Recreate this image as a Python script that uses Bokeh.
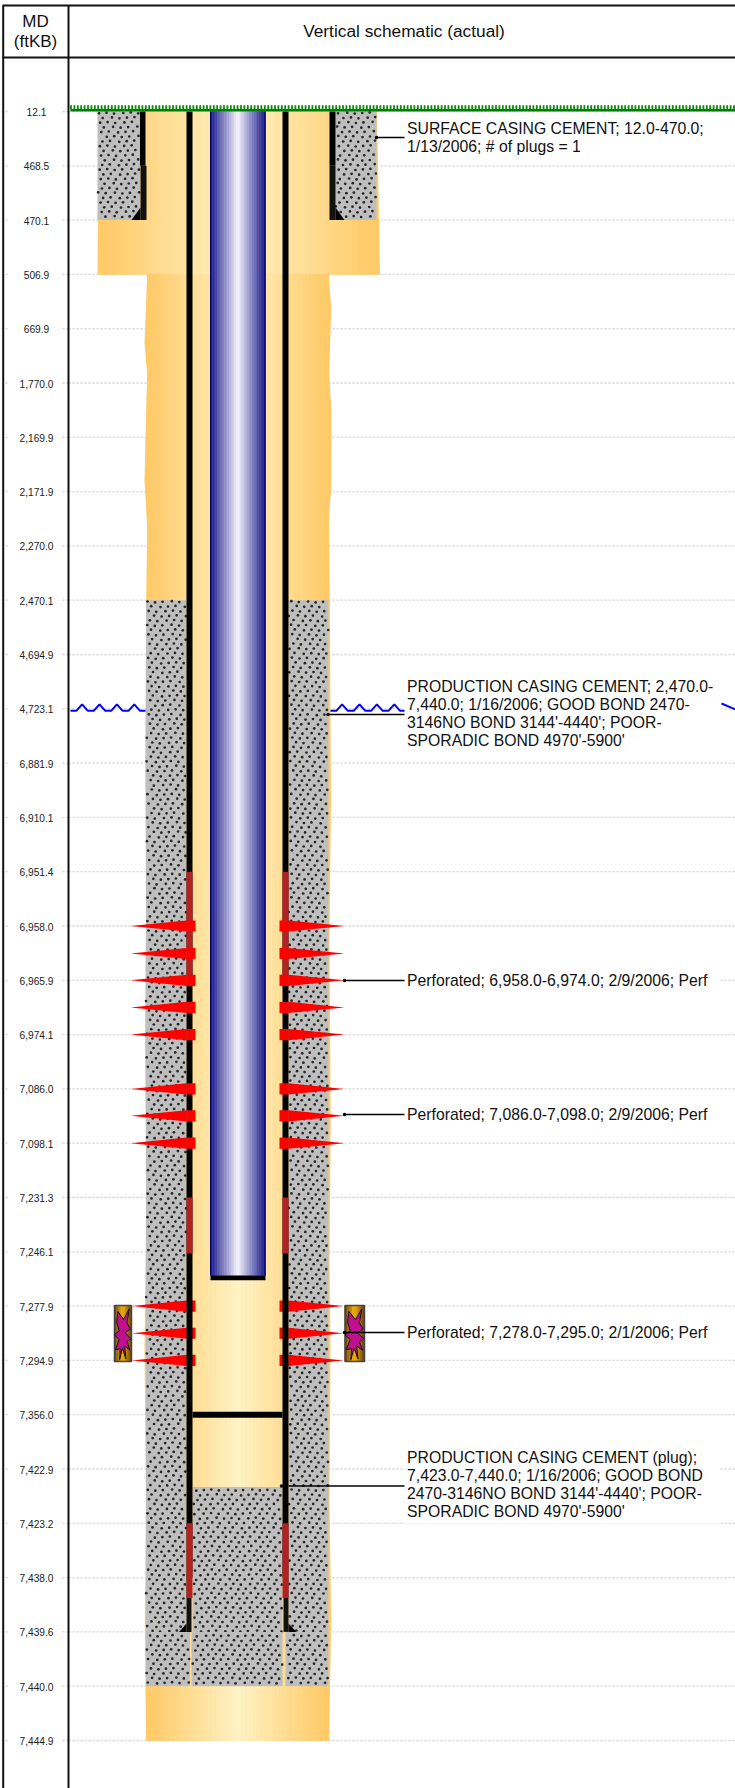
import numpy as np
from bokeh.plotting import figure
from bokeh.embed import file_html
from bokeh.resources import INLINE
from bokeh.core.properties import value

# ---- data ----
MD_LABELS = ["12.1","468.5","470.1","506.9","669.9","1,770.0","2,169.9","2,171.9","2,270.0","2,470.1",
             "4,694.9","4,723.1","6,881.9","6,910.1","6,951.4","6,958.0","6,965.9","6,974.1","7,086.0",
             "7,098.1","7,231.3","7,246.1","7,277.9","7,294.9","7,356.0","7,422.9","7,423.2","7,438.0",
             "7,439.6","7,440.0","7,444.9"]
MD_VALUES = [float(s.replace(",", "")) for s in MD_LABELS]
PERF_DEPTHS_A = [6958.0, 6962.0, 6965.9, 6970.0, 6974.1]
PERF_DEPTHS_B = [7086.0, 7092.0, 7098.1]
PERF_DEPTHS_C = [7277.9, 7286.4, 7294.9]
SURFACE_CEMENT = (12.1, 470.1)
SURFACE_HOLE_BOTTOM = 506.9
PROD_CEMENT = (2470.1, 7440.0)
PLUG = (7423.0, 7440.0)
HOLE_BOTTOM = 7444.9
TUBING_BOTTOM = 7260.0
BRIDGE = 7356.0
WATER = 4723.1
CASING_SHOE = 7439.6
SURFACE_JOINT = 468.5
RED_ZONES = [(6951.4, 6966.8), (7231.3, 7247.1), (7423.2, 7438.6)]
LOWER_JOINT = 7438.0
NOTES = [
    (["SURFACE CASING CEMENT; 12.0-470.0;", "1/13/2006; # of plugs = 1"], 137),
    (["PRODUCTION CASING CEMENT; 2,470.0-", "7,440.0; 1/16/2006; GOOD BOND 2470-",
      "3146NO BOND 3144'-4440'; POOR-", "SPORADIC BOND 4970'-5900'"], 713),
    (["Perforated; 6,958.0-6,974.0; 2/9/2006; Perf"], 980),
    (["Perforated; 7,086.0-7,098.0; 2/9/2006; Perf"], 1114),
    (["Perforated; 7,278.0-7,295.0; 2/1/2006; Perf"], 1332),
    (["PRODUCTION CASING CEMENT (plug);", "7,423.0-7,440.0; 1/16/2006; GOOD BOND",
      "2470-3146NO BOND 3144'-4440'; POOR-", "SPORADIC BOND 4970'-5900'"], 1484),
]
FONT = value("Liberation Sans")

# ---- scales: x in page pixels, y in log-track rows (one row per MD label) ----
Y0, STEP = 111.0, 54.3
W, H = 735, 1788
def row(md):
    return np.interp(md, MD_VALUES, np.arange(len(MD_VALUES)))
def yp(px):
    return (np.asarray(px, dtype=float) - Y0) / STEP

p = figure(width=W, height=H, output_backend="svg", toolbar_location=None,
           x_range=(0, W), y_range=(float(yp(H)), float(yp(0))),
           x_axis_type=None, y_axis_type=None, min_border=0, outline_line_color=None)
p.grid.visible = False
p.styles = {"position": "absolute", "left": "0", "top": "0"}

def mix(c0, c1, f):
    a = np.array(c0, float); b = np.array(c1, float)
    r = a + (b - a) * f
    return "#%02x%02x%02x" % tuple(int(round(v)) for v in r)

def gradient(x0, x1, y0, y1, edge, mid, n, cx=None):
    cx = (x0 + x1) / 2 if cx is None else cx
    e = np.linspace(x0, x1, n + 1)
    centres = (e[:-1] + e[1:]) / 2
    cols = [mix(edge, mid, 1 - min(1, abs(c - cx) / max(cx - x0, x1 - cx))) for c in centres]
    p.quad(left=e[:-1], right=e[1:], top=[y0] * n, bottom=[y1] * n,
           fill_color=cols, line_color=cols, line_width=0.5)

def rect(x0, x1, y0, y1, color):
    p.quad(left=[x0], right=[x1], top=[y0], bottom=[y1], fill_color=color, line_color=None)

def cement(x0, x1, y0, y1):
    rect(x0, x1, y0, y1, "#BEBEBE")
    top_px, bot_px = Y0 + y0 * STEP, Y0 + y1 * STEP
    ys = np.arange(Y0 + 1.5, 1700, 4.7)
    xs, yy = [], []
    for i, y in enumerate(ys):
        if not (top_px <= y <= bot_px):
            continue
        off = (i * 4.7) % 8.0
        for j, x in enumerate(np.arange(90 + off, 400, 8.0)):
            if x0 + 0.8 <= x <= x1 - 0.8:
                xs.append(x + ((j * 5 + i * 3) % 7 - 3) * 0.25)
                yy.append(y + ((j * 3 + i * 5) % 5 - 2) * 0.3)
    p.scatter(xs, yp(yy), size=2.7, marker="circle", fill_color="#262626", line_color=None)

ORANGE, CREAM = (255, 201, 102), (255, 243, 198)

# gridlines
r = np.arange(len(MD_VALUES))
for a, b in [(5, 9), (62, 68), (68, W)]:
    p.segment(x0=[a] * len(r), x1=[b] * len(r), y0=r, y1=r, line_color="#D2D2D2", line_width=1.3, line_dash="2 2")

# MD labels
p.text(x=[36] * len(r), y=r + 0.01, text=MD_LABELS, text_font=FONT, text_font_size="10.2px",
       text_align="center", text_baseline="middle", text_color="#222222")

# hole bodies
s0, s1 = row(SURFACE_CEMENT[0]), row(SURFACE_CEMENT[1])
sb = row(SURFACE_HOLE_BOTTOM)
p.patch(x=[98, 376.5, 379.5, 97], y=[s0, s0, sb, sb], fill_color="#FFCC66", line_color=None)
left_px = [(146.7,274),(144,343),(146.7,373),(145.7,410),(144,480),(146.7,527),(145.7,600),(144.6,760),(145.5,900),
           (144.4,1030),(145.6,1200),(144,1350),(145.4,1500),(144.3,1620),(145.5,1740)]
right_px = [(328,274),(330.7,307),(328.7,373),(331,413),(330.7,487),(328.3,520),(329.3,600),(330.5,800),(329,940),
            (330.2,1120),(329,1260),(330,1350),(329,1500),(330.7,1620),(328.6,1740)]
p.patch(x=[a for a, _ in left_px] + [a for a, _ in reversed(right_px)],
        y=list(yp([b for _, b in left_px])) + list(yp([b for _, b in reversed(right_px)])),
        fill_color="#FFC966", line_color=None)
gradient(100, 376, s0, sb, ORANGE, CREAM, 70, cx=237.5)
hb = row(HOLE_BOTTOM)
gradient(147, 328, sb, hb, ORANGE, CREAM, 48, cx=237.5)

# surface casing cement
cement(97, 139.5, s0, s1)
cement(335, 376, s0, s1)
# production casing cement
c0, c1 = row(PROD_CEMENT[0]), row(PROD_CEMENT[1])
shoe = row(CASING_SHOE)
plug0 = row(PLUG[0])
cement(145.5, 186, c0, shoe)
cement(288, 328, c0, shoe)
cement(145.5, 189.5, shoe, c1)
cement(285, 328, shoe, c1)
cement(192, 282, plug0, shoe)
cement(191, 282, shoe, c1)

# surface casing
sj = row(SURFACE_JOINT)
for a, b in [(139.5, 145), (329, 335)]:
    rect(a, b, s0, sj, "#000000")
for a, b in [(140, 146), (329, 335)]:
    rect(a, b, sj, s1, "#111111")
sh = yp(207)
p.patch(x=[131, 140, 140], y=[s1, s1, sh], fill_color="#000000", line_color=None)
p.patch(x=[344, 335, 335], y=[s1, s1, sh], fill_color="#000000", line_color=None)

# perforations behind the casing (lowest set)
def perfs(depths, tipl, tipr):
    for d in depths:
        y = row(d); h = 5.6 / STEP
        p.patch(x=[tipl, 186, 186], y=[y, y - h, y + h], fill_color="#FF0000", line_color=None)
        p.patch(x=[tipr, 288, 288], y=[y, y - h, y + h], fill_color="#FF0000", line_color=None)
        rect(186, 195, y - h, y + h, "#FF0000")
        rect(279, 288, y - h, y + h, "#FF0000")
perfs(PERF_DEPTHS_C, 131.5, 343)

# production casing
lj = row(LOWER_JOINT)
for a, b in [(186, 192), (282, 288)]:
    rect(a, b, s0, lj, "#000000")
rect(186, 191, lj, shoe, "#111111")
rect(283, 288, lj, shoe, "#111111")
sh2 = yp(1623)
p.patch(x=[178.5, 186, 186], y=[shoe, shoe, sh2], fill_color="#000000", line_color=None)
p.patch(x=[296, 288, 288], y=[shoe, shoe, sh2], fill_color="#000000", line_color=None)
for a, b in RED_ZONES:
    ya, yb = row(a), row(b)
    rect(186, 192, ya, yb, "#B22222")
    rect(282, 288, ya, yb, "#B22222")

# tubing
tb = row(TUBING_BOTTOM)
gradient(210, 265, s0, tb, (20, 20, 140), (246, 246, 255), 32, cx=237.5)
p.segment(x0=[210, 264.6], x1=[210, 264.6], y0=[s0, s0], y1=[tb, tb], line_color="#000066", line_width=1)
rect(210, 265, tb, tb + 4.8 / STEP, "#000000")

# bridge plug
rect(192, 282, row(BRIDGE) - 3 / STEP, row(BRIDGE) + 3 / STEP, "#000000")

# upper perforations in front of the casing
perfs(PERF_DEPTHS_A, 130, 344)
perfs(PERF_DEPTHS_B, 130, 344)

# perforating-gun icons
STAR = [(40,48),(60,72),(80,40),(72,82),(84,100),(66,112),(86,130),(72,138),(82,164),(64,152),(68,190),
        (56,158),(46,192),(48,160),(32,162),(44,132),(28,118),(44,106),(36,80)]
for bx0, bx1 in [(114, 131), (344.5, 364)]:
    by0, by1 = yp(1305), yp(1361)
    gradient(bx0, bx1, by0, by1, (105, 60, 15), (245, 180, 0), 8)
    p.quad(left=[bx0], right=[bx1], top=[by0], bottom=[by1], fill_color=None, line_color="#444444", line_width=1.5)
    sx = [bx0 + (a - 28) / 60 * (bx1 - bx0) for a, _ in STAR]
    sy = [by0 + (b - 30) / 168 * (by1 - by0) for _, b in STAR]
    p.patch(x=sx, y=sy, fill_color="#C0108F", line_color="#111111", line_width=1)

# white boxes behind the notes
for lines, yc in NOTES:
    hh = 9.5 * len(lines) + 1
    rect(404, 720, yp(yc - hh), yp(yc + hh), "#FFFFFF")

# water level
def wave(x0, x1):
    wy = row(WATER) + 2 / STEP
    up = 6.5 / STEP
    xs, ys = [], []
    x = x0
    while x + 17.4 <= x1:
        for dx, dy in [(0, 0), (5.8, 0), (11.6, -up), (17.4, 0)]:
            xs.append(x + dx); ys.append(wy + dy)
        x += 17.4
    xs.append(x1); ys.append(wy)
    p.line(xs, ys, line_color="#0000FF", line_width=2)
wave(70, 145)
wave(330, 404)
p.line([721, 735], yp([703, 709]), line_color="#0000FF", line_width=2)

# leaders
LEADERS = [(376, 137), (327.5, 714), (344, 980), (344, 1114), (344, 1332)]
for x0, y0 in LEADERS:
    p.segment(x0=[x0], x1=[404], y0=yp(y0), y1=yp(y0), line_color="#000000", line_width=1.6)
p.segment(x0=[288], x1=[404], y0=yp(1485.5), y1=yp(1485.5), line_color="#000000", line_width=1.6)
p.scatter([a for a, _ in LEADERS] + [281], yp([b for _, b in LEADERS] + [1485.5]), size=3.5, marker="circle",
          fill_color="#000000", line_color=None)

# note texts
for lines, yc in NOTES:
    n = len(lines)
    ys = [yc + (i - (n - 1) / 2) * 18.1 for i in range(n)]
    p.text(x=[406.5] * n, y=yp(ys), text=lines, text_font=FONT, text_font_size="15.75px",
           text_align="left", text_baseline="middle", text_color="#111111")

# ground
gx = np.arange(70.5, W + 1, 3.4)
p.quad(left=[70], right=[W], top=[yp(108.6)], bottom=[yp(111)], fill_color="#008000", line_color=None)
p.segment(x0=gx, x1=gx, y0=[yp(104.8)] * len(gx), y1=[yp(109)] * len(gx), line_color="#058A05", line_width=1.8)

# table frame
lc = "#111111"
p.segment(x0=[2.7, 68], x1=[2.7, 68], y0=[yp(5)] * 2, y1=[yp(H)] * 2, line_color=lc, line_width=2)
p.segment(x0=[2, 2], x1=[W, W], y0=yp([5, 57]), y1=yp([5, 57]), line_color=lc, line_width=2)
p.text(x=[35, 35], y=yp([20.5, 41]), text=["MD", "(ftKB)"], text_font=FONT, text_font_size="17px",
       text_align="center", text_baseline="middle", text_color="#111111")
p.text(x=[403.5], y=yp([30.5]), text=["Vertical schematic (actual)"], text_font=FONT, text_font_size="17.3px",
       text_align="center", text_baseline="middle", text_color="#111111")

open("out.html", "w").write(file_html(p, INLINE))
